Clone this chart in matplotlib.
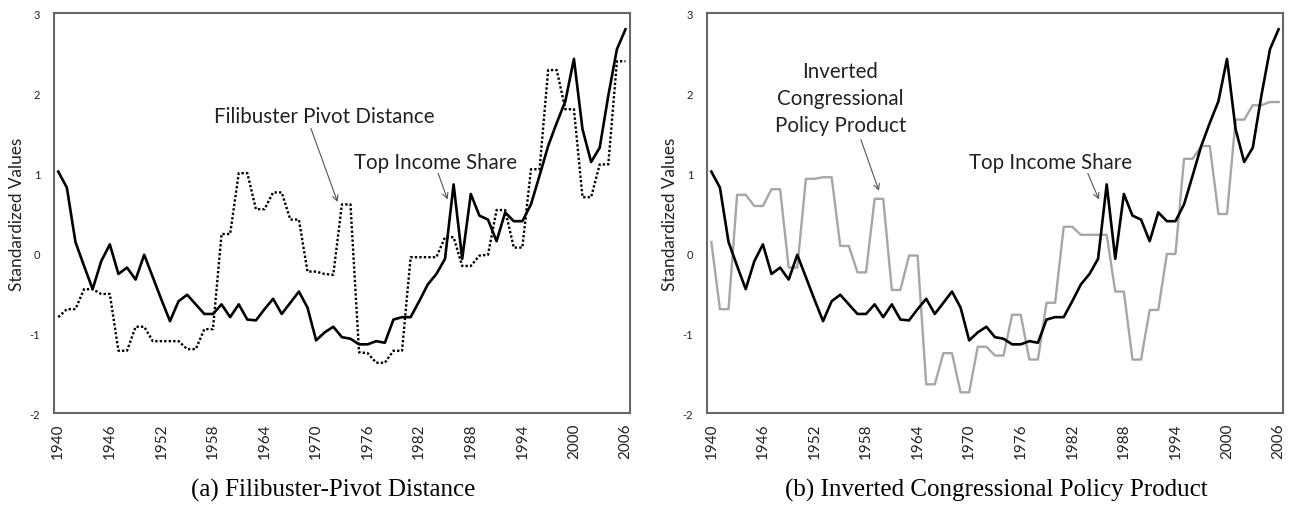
import matplotlib.pyplot as plt

# Years 1940-2006 (annual)
years = list(range(1940, 2007))

# Top income share (standardized), same series in both panels
top_income = [1.02, 0.82, 0.14, -0.16, -0.45, -0.10, 0.11, -0.26, -0.18, -0.33,
              -0.02, -0.30, -0.58, -0.85, -0.60, -0.52, -0.64, -0.76, -0.76, -0.64,
              -0.80, -0.64, -0.83, -0.84, -0.70, -0.57, -0.76, -0.62, -0.48, -0.68,
              -1.09, -0.99, -0.92, -1.05, -1.07, -1.14, -1.14, -1.10, -1.12, -0.83,
              -0.80, -0.80, -0.60, -0.39, -0.26, -0.07, 0.86, -0.07, 0.74, 0.47,
              0.42, 0.15, 0.51, 0.40, 0.40, 0.61, 0.97, 1.34, 1.63, 1.90,
              2.43, 1.55, 1.14, 1.32, 1.97, 2.55, 2.80]

# Filibuster pivot distance (standardized)
filibuster = [-0.80, -0.70, -0.70, -0.45, -0.45, -0.51, -0.51, -1.22, -1.22, -0.92,
              -0.92, -1.10, -1.10, -1.10, -1.10, -1.20, -1.20, -0.95, -0.95, 0.24,
              0.24, 1.00, 1.00, 0.55, 0.55, 0.76, 0.76, 0.42, 0.42, -0.23,
              -0.23, -0.26, -0.27, 0.61, 0.61, -1.24, -1.25, -1.37, -1.37, -1.22,
              -1.22, -0.05, -0.05, -0.05, -0.05, 0.20, 0.20, -0.16, -0.16, -0.03,
              -0.02, 0.54, 0.54, 0.07, 0.07, 1.05, 1.05, 2.29, 2.29, 1.80,
              1.80, 0.70, 0.70, 1.11, 1.11, 2.40, 2.40]

# Inverted congressional policy product (standardized)
policy_product = [0.14, -0.70, -0.70, 0.73, 0.73, 0.59, 0.59, 0.80, 0.80, -0.18,
                  -0.18, 0.93, 0.93, 0.95, 0.95, 0.09, 0.09, -0.24, -0.24, 0.68,
                  0.68, -0.46, -0.46, -0.03, -0.03, -1.64, -1.64, -1.25, -1.25, -1.74,
                  -1.74, -1.17, -1.17, -1.28, -1.28, -0.77, -0.77, -1.33, -1.33, -0.62,
                  -0.62, 0.33, 0.33, 0.23, 0.23, 0.23, 0.23, -0.48, -0.48, -1.33,
                  -1.33, -0.71, -0.71, -0.01, -0.01, 1.18, 1.18, 1.34, 1.34, 0.49,
                  0.49, 1.67, 1.67, 1.85, 1.85, 1.89, 1.89]

xticks = list(range(1940, 2007, 6))
yticks = [-2, -1, 0, 1, 2, 3]

plt.rcParams['font.family'] = ['Lato', 'DejaVu Sans']

fig = plt.figure(figsize=(12.94, 5.10), dpi=100)
ax1 = fig.add_axes([0.0417, 0.188, 0.445, 0.784])
ax2 = fig.add_axes([0.5464, 0.188, 0.445, 0.784])

ax1.plot(years, filibuster, color='black', lw=1.7, linestyle=(0, (1, 0.9)))
ax1.plot(years, top_income, color='black', lw=1.9)

ax2.plot(years, policy_product, color='#a6a6a6', lw=1.7)
ax2.plot(years, top_income, color='black', lw=1.9)

for ax in (ax1, ax2):
    ax.set_xlim(1939.5, 2006.5)
    ax.set_ylim(-2, 3)
    ax.set_xticks(xticks)
    ax.set_xticklabels([str(y) for y in xticks], rotation=90, fontsize=11,
                       color='#222222')
    ax.set_yticks(yticks)
    ax.set_yticklabels([str(y) for y in yticks], fontsize=8, color='#222222')
    ax.tick_params(axis='both', length=0)
    ax.tick_params(axis='x', pad=7)
    ax.tick_params(axis='y', pad=10)
    ax.set_ylabel("Standardized Values", fontsize=12.4, color='#222222', labelpad=3)
    for s in ax.spines.values():
        s.set_color('#666666')
        s.set_linewidth(1.5)

arrow = dict(arrowstyle='->', color='#555555', lw=0.8, shrinkA=0, shrinkB=0)

ax1.text(1971.0, 1.71, "Filibuster Pivot Distance", fontsize=14.8,
         ha='center', va='center', color='#222222')
ax1.annotate("", xy=(1972.5, 0.64), xytext=(1969.4, 1.56), arrowprops=arrow)
ax1.text(1983.9, 1.14, "Top Income Share", fontsize=14.8,
         ha='center', va='center', color='#222222')
ax1.annotate("", xy=(1985.3, 0.67), xytext=(1984.2, 1.0), arrowprops=arrow)

ax2.text(1955.0, 1.94, "Inverted\nCongressional\nPolicy Product", fontsize=14.8,
         ha='center', va='center', color='#222222', linespacing=1.42)
ax2.annotate("", xy=(1959.5, 0.78), xytext=(1957.4, 1.42), arrowprops=arrow)
ax2.text(1979.5, 1.14, "Top Income Share", fontsize=14.8,
         ha='center', va='center', color='#222222')
ax2.annotate("", xy=(1985.1, 0.67), xytext=(1983.8, 1.0), arrowprops=arrow)

fig.text(333 / 1294, 1 - 490 / 510, "(a) Filibuster-Pivot Distance",
         family='Liberation Serif', fontsize=18, ha='center', va='center')
fig.text(996 / 1294, 1 - 490 / 510, "(b) Inverted Congressional Policy Product",
         family='Liberation Serif', fontsize=18, ha='center', va='center')

fig.savefig("out.png", dpi=100)
